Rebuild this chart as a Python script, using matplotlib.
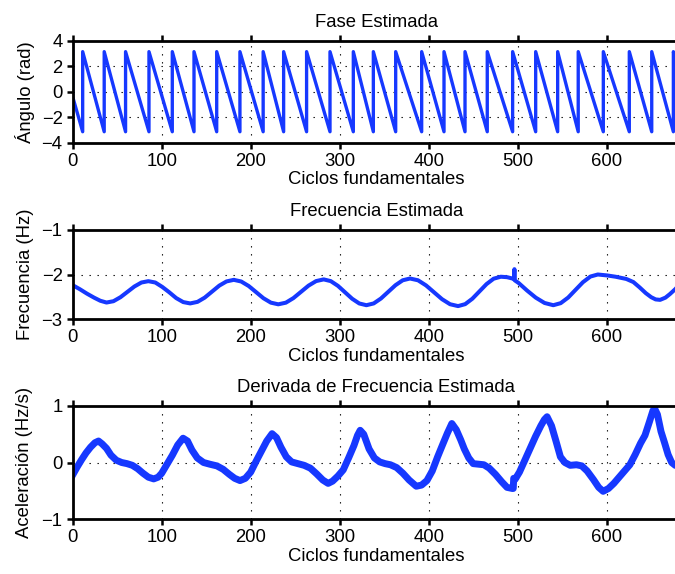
import numpy as np
import matplotlib
matplotlib.use("Agg")
import matplotlib.pyplot as plt

plt.rcParams.update({"font.family": "Liberation Sans", "font.size": 13.3,
                     "axes.linewidth": 2.0, "axes.axisbelow": True})
AZUL = "#1638ff"
XMAX = 682

# --- Fase estimada: instantes (ciclos) donde la fase salta de -pi a +pi ---
saltos = [11.2, 35.4, 59.4, 85.7, 111.9, 136.3, 161.8, 187.9, 214.0, 237.0,
          262.8, 289.1, 315.3, 337.8, 362.9, 392.1, 417.2, 440.8, 465.8, 494.3,
          520.2, 544.9, 568.0, 596.2, 625.4, 650.6, 674.9]
fase_ini = [3.14, -0.40]     # valores en el ciclo 0
fase_fin = 1.25              # valor al final del registro

# --- Frecuencia estimada (Hz) ---
frec_t = [0, 8, 16, 24, 31, 38,
          45.8, 53.7, 61.5, 69.3, 77.2, 85,
          92.8, 100.7, 108.5, 116.3, 124.2, 132,
          140.2, 148.3, 156.5, 164.7, 172.8, 181,
          189.3, 197.7, 206, 214.3, 222.7, 231,
          239.5, 248, 256.5, 265, 273.5, 282,
          290, 298, 306, 314, 322, 330,
          338.2, 346.3, 354.5, 362.7, 370.8, 379,
          388, 397, 406, 415, 424, 433,
          441, 449, 457, 465, 473, 481,
          488, 494, 496, 496.3, 496.6, 501, 510.5, 520.3, 530.2, 540,
          548.3, 556.7, 565, 573.3, 581.7, 590,
          600, 610, 622, 630, 637, 644, 650, 655, 660, 666, 671, 677, 682]
frec_y = [-2.24, -2.33, -2.43, -2.52, -2.59, -2.63,
          -2.60, -2.51, -2.39, -2.27, -2.18, -2.15,
          -2.18, -2.28, -2.40, -2.53, -2.62, -2.65,
          -2.615, -2.52, -2.385, -2.25, -2.156, -2.12,
          -2.157, -2.258, -2.395, -2.533, -2.633, -2.67,
          -2.633, -2.53, -2.39, -2.25, -2.148, -2.11,
          -2.149, -2.255, -2.40, -2.545, -2.651, -2.69,
          -2.65, -2.54, -2.39, -2.24, -2.13, -2.09,
          -2.13, -2.245, -2.40, -2.555, -2.668, -2.71,
          -2.666, -2.545, -2.38, -2.215, -2.094, -2.05,
          -2.06, -2.09, -2.10, -1.88, -2.13, -2.19, -2.36, -2.52, -2.64, -2.69,
          -2.644, -2.518, -2.345, -2.173, -2.046, -2.00,
          -2.02, -2.05, -2.10, -2.17, -2.29, -2.42, -2.51, -2.56, -2.57, -2.52, -2.44, -2.33, -2.22]

# --- Derivada de frecuencia (Hz/s) ---
acel_t = [0, 5, 10, 15, 20, 25, 29, 33, 38, 43, 49, 55, 61, 67, 73, 79, 85, 91,
          96, 100, 106, 112, 118, 124, 129, 134, 140, 147, 154, 162, 169, 176, 182, 188,
          194, 200, 206, 212, 218, 224, 229, 234, 240, 246, 253, 260, 267, 274, 281, 287,
          292, 298, 304, 310, 316, 320, 323, 327, 333, 339, 345, 351, 357, 364, 371, 378, 386,
          392, 398, 404, 410, 416, 421, 426, 431, 436, 440, 445, 450, 456, 462, 468, 475, 482, 488, 494,
          495, 495.5, 497, 502, 508, 514, 520, 526, 530, 533, 538, 543, 548, 553, 559, 566, 572, 578, 585, 591, 596,
          602, 608, 614, 620, 626, 632, 638, 643, 648, 652, 654, 657, 661, 665, 669, 673, 677, 682]
acel_y = [-0.22, -0.08, 0.05, 0.17, 0.27, 0.35, 0.38, 0.33, 0.25, 0.13, 0.04, 0.00, -0.02, -0.05, -0.11, -0.19, -0.26, -0.29,
          -0.26, -0.19, -0.03, 0.13, 0.31, 0.43, 0.38, 0.22, 0.08, 0.00, -0.03, -0.06, -0.12, -0.21, -0.28, -0.32,
          -0.28, -0.17, 0.02, 0.20, 0.38, 0.51, 0.44, 0.27, 0.10, 0.01, -0.02, -0.05, -0.10, -0.20, -0.31, -0.37,
          -0.33, -0.24, -0.13, 0.08, 0.30, 0.48, 0.57, 0.50, 0.24, 0.08, 0.01, -0.02, -0.04, -0.09, -0.19, -0.31, -0.42,
          -0.40, -0.32, -0.15, 0.10, 0.33, 0.52, 0.69, 0.58, 0.40, 0.24, 0.08, -0.02, -0.03, -0.04, -0.10, -0.21, -0.34, -0.44, -0.46,
          -0.46, -0.28, -0.30, -0.17, 0.04, 0.25, 0.46, 0.65, 0.76, 0.81, 0.65, 0.38, 0.10, 0.00, -0.05, -0.04, -0.06, -0.15, -0.30, -0.44, -0.51,
          -0.46, -0.37, -0.26, -0.15, -0.04, 0.14, 0.34, 0.48, 0.72, 0.92, 0.95, 0.85, 0.55, 0.35, 0.14, 0.00, -0.05, -0.06]

# vertices del diente de sierra
fase_t = [0, 0]
fase_y = list(fase_ini)
for s in saltos:
    fase_t += [s, s]
    fase_y += [-np.pi, np.pi]
fase_t.append(XMAX)
fase_y.append(fase_fin)

W, H = 675, 574
fig = plt.figure(figsize=(W / 100, H / 100), dpi=100)

def eje(top, bottom):
    left, right = 72.7, 72.7 + XMAX * 0.89
    return fig.add_axes([left / W, 1 - bottom / H, (right - left) / W, (bottom - top) / H])

paneles = [
    (eje(40.7, 142.7), fase_t, fase_y, 2.4, (-4, 4), [-4, -2, 0, 2, 4], "Fase Estimada", "Ángulo (rad)"),
    (eje(230, 319), frec_t, frec_y, 2.9, (-3, -1), [-3, -2, -1], "Frecuencia Estimada", "Frecuencia (Hz)"),
    (eje(406, 519), acel_t, acel_y, 5.0, (-1, 1), [-1, 0, 1], "Derivada de Frecuencia Estimada", "Aceleración (Hz/s)"),
]

for ax, x, y, lw, ylim, yt, titulo, ylab in paneles:
    ax.plot(x, y, color=AZUL, lw=lw, solid_joinstyle="round")
    ax.set_xlim(0, XMAX)
    ax.set_ylim(*ylim)
    ax.set_xticks(range(0, 700, 100))
    ax.set_yticks(yt)
    ax.grid(True, color="k", lw=0.8, ls=(0, (1.2, 6)))
    ax.tick_params(direction="out", length=4.3, width=1.8, top=True, right=True, pad=3)
    ax.set_title(titulo, pad=10.2, fontsize=13.3)
    ax.set_xlabel("Ciclos fundamentales", labelpad=1)
    ax.set_ylabel(ylab)
    ax.yaxis.set_label_coords((25 - 72.7) / (XMAX * 0.89), 0.5)
    ax.yaxis.label.set_va("center")

fig.savefig("out.png", dpi=100)
